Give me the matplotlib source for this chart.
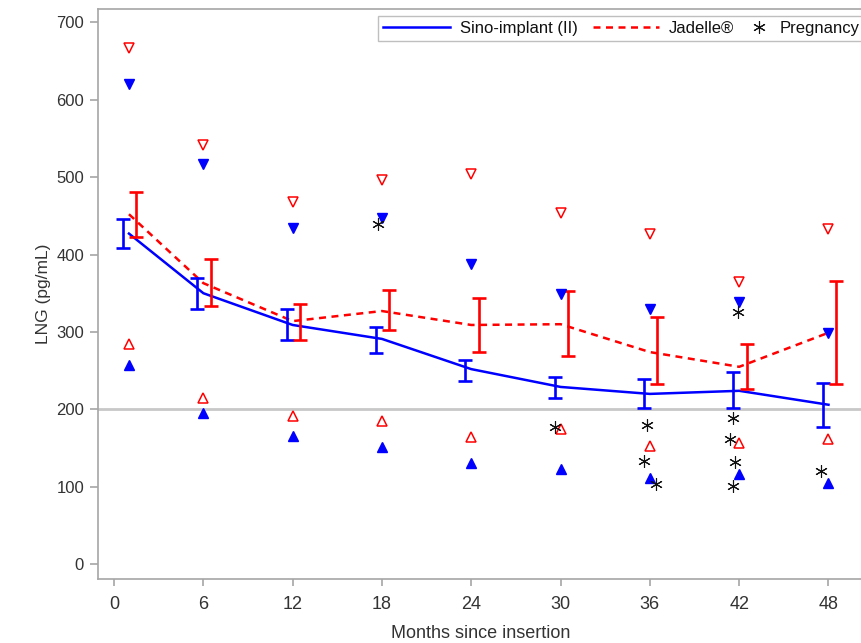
import matplotlib
matplotlib.use("Agg")
import matplotlib.pyplot as plt
from matplotlib.lines import Line2D
from matplotlib.legend_handler import HandlerLine2D

# visit months
months = [1, 6, 12, 18, 24, 30, 36, 42, 48]
xticks = [0, 6, 12, 18, 24, 30, 36, 42, 48]

# Sino-implant (II): mean, 95% CI, min, max (pg/mL)
sino_mean = [427, 350, 309, 291, 252, 229, 220, 224, 206]
sino_lo = [408, 330, 289, 273, 237, 215, 202, 202, 177]
sino_hi = [446, 370, 329, 307, 264, 242, 239, 248, 234]
sino_min = [257, 195, 166, 152, 131, 123, 112, 117, 105]
sino_max = [620, 517, 434, 447, 388, 349, 330, 339, 299]

# Jadelle
jad_mean = [452, 363, 314, 327, 309, 310, 274, 255, 299]
jad_lo = [423, 334, 290, 302, 274, 269, 233, 226, 233]
jad_hi = [481, 394, 336, 354, 344, 353, 319, 285, 366]
jad_min = [285, 215, 192, 185, 164, 175, 153, 156, 162]
jad_max = [666, 542, 468, 496, 504, 454, 427, 364, 433]

# pregnancies
preg_month = [17.7, 29.6, 35.8, 35.6, 36.4, 41.9, 41.6, 41.4, 41.7, 41.6, 47.5]
preg_lng = [440, 177, 180, 133, 104, 326, 189, 162, 132, 101, 121]

blue = "#0000ff"
red = "#ff0000"
axis_gray = "#a6a6a6"
text_col = "#333333"
asterisk = (6, 2, 0)

plt.rcParams['font.family'] = ['Liberation Sans', 'DejaVu Sans']

fig = plt.figure(figsize=(8.61, 6.43), dpi=100)
ax = fig.add_axes([98 / 861, 1 - 579 / 643, 1 - 98 / 861 + 0.002, (579 - 9) / 643])

ax.axhline(200, color="#c8c8c8", lw=2, zorder=1)

# mean lines
ax.plot(months, sino_mean, color=blue, lw=1.8, zorder=3)
ax.plot(months, jad_mean, color=red, lw=1.8, ls=(0, (2.8, 2.2)), zorder=3)

# confidence intervals, shifted a little so they do not overlap
sino_x = [m - 0.4 for m in months]
jad_x = [m + 0.5 for m in months]
sino_err = [[m - l for m, l in zip(sino_mean, sino_lo)],
            [h - m for m, h in zip(sino_mean, sino_hi)]]
jad_err = [[m - l for m, l in zip(jad_mean, jad_lo)],
           [h - m for m, h in zip(jad_mean, jad_hi)]]
ax.errorbar(sino_x, sino_mean, yerr=sino_err, fmt="none", ecolor=blue,
            elinewidth=1.9, capsize=4.8, capthick=1.9, zorder=4)
ax.errorbar(jad_x, jad_mean, yerr=jad_err, fmt="none", ecolor=red,
            elinewidth=1.9, capsize=4.8, capthick=1.9, zorder=4)

# min / max markers
ax.plot(months, sino_max, ls="none", marker="v", ms=6.8, color=blue, zorder=5)
ax.plot(months, sino_min, ls="none", marker="^", ms=6.8, color=blue, zorder=5)
ax.plot(months, jad_max, ls="none", marker="v", ms=6.5, mfc="white",
        mec=red, mew=1.1, zorder=5)
ax.plot(months, jad_min, ls="none", marker="^", ms=6.5, mfc="white",
        mec=red, mew=1.1, zorder=5)

# pregnancies
ax.plot(preg_month, preg_lng, ls="none", marker=asterisk, ms=9, color="#111111",
        mew=0.8, zorder=6)

ax.set_xlim(-1.08, 50.3)
ax.set_ylim(-19, 717)
ax.set_xticks(xticks)
ax.set_yticks(range(0, 701, 100))

ax.spines["right"].set_visible(False)
for side in ["left", "bottom", "top"]:
    ax.spines[side].set_color(axis_gray)
    ax.spines[side].set_linewidth(1.2)

ax.tick_params(axis="y", length=6, width=1.2, color=axis_gray, labelsize=12,
               labelcolor=text_col, pad=4)
ax.tick_params(axis="x", length=5, width=1.2, color=axis_gray, labelsize=13,
               labelcolor=text_col, pad=7)

ax.set_ylabel("LNG (pg/mL)", fontsize=12.5, color=text_col, labelpad=4)
ax.set_xlabel("Months since insertion", fontsize=13, color=text_col, labelpad=9)


class ShortHandler(HandlerLine2D):
    # narrower handle box for the marker-only entry
    def legend_artist(self, legend, orig_handle, fontsize, handlebox):
        handlebox.width = handlebox.width * 0.3
        return super().legend_artist(legend, orig_handle, fontsize, handlebox)


h_sino = Line2D([], [], color=blue, lw=1.8)
h_jad = Line2D([], [], color=red, lw=1.8, ls=(0, (2.8, 2.2)))
h_preg = Line2D([], [], ls="none", marker=asterisk, ms=9, color="#111111", mew=0.8)
leg = fig.legend([h_sino, h_jad, h_preg], ["Sino-implant (II)", "Jadelle®", "Pregnancy"],
                 loc="upper left", bbox_to_anchor=(378 / 861, 1 - 16 / 643),
                 ncol=3, fontsize=12, frameon=True, fancybox=False,
                 edgecolor="#b0b0b0", handlelength=4.0, handletextpad=0.6,
                 columnspacing=0.9, borderpad=0.3, borderaxespad=0,
                 handler_map={h_preg: ShortHandler()})
leg.get_frame().set_linewidth(1.0)
for t in leg.get_texts():
    t.set_color("#111111")

fig.savefig("out.png", dpi=100)
